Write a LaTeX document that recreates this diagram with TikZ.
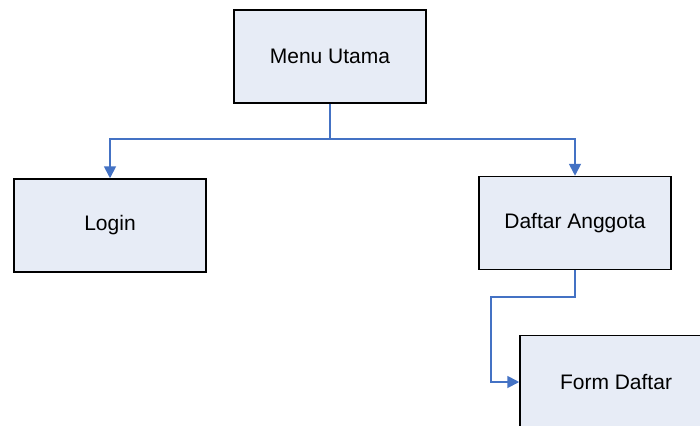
\documentclass[tikz,border=0pt]{standalone}
\usepackage{fontspec}
\setmainfont{Liberation Sans}
\usetikzlibrary{arrows.meta}
\definecolor{boxfill}{HTML}{E7ECF6}
\definecolor{linkblue}{HTML}{4472C4}
\tikzset{
  menubox/.style={draw=black, line width=1.5pt, fill=boxfill,
    minimum width=192pt, minimum height=93pt, inner sep=0pt,
    font=\fontsize{21}{25}\selectfont},
  link/.style={draw=linkblue, line width=1.8pt,
    -{Triangle[length=12pt,width=12pt]}}
}
\begin{document}
\begin{tikzpicture}[x=1pt,y=-1pt]
  \useasboundingbox (0,0) rectangle (700,425);
  \clip (0,0) rectangle (700,425);
  % menu boxes
  \node[menubox] (utama)  at (330,56.5)  {Menu Utama};
  \node[menubox] (login)  at (110,225.5) {Login};
  \node[menubox] (daftar) at (575,223)   {Daftar Anggota};
  \node[menubox] (form)   at (616,382)   {Form Daftar};
  % junction points of the links
  \coordinate (split) at (330,139);
  \coordinate (bend)  at (491,297);
  % links
  \draw[link] (utama.south) -- (split) -| (login.north);
  \draw[link] (utama.south) -- (split) -| (daftar.north);
  \draw[link] (daftar.south) |- (bend) |- (form.west);
\end{tikzpicture}
\end{document}
